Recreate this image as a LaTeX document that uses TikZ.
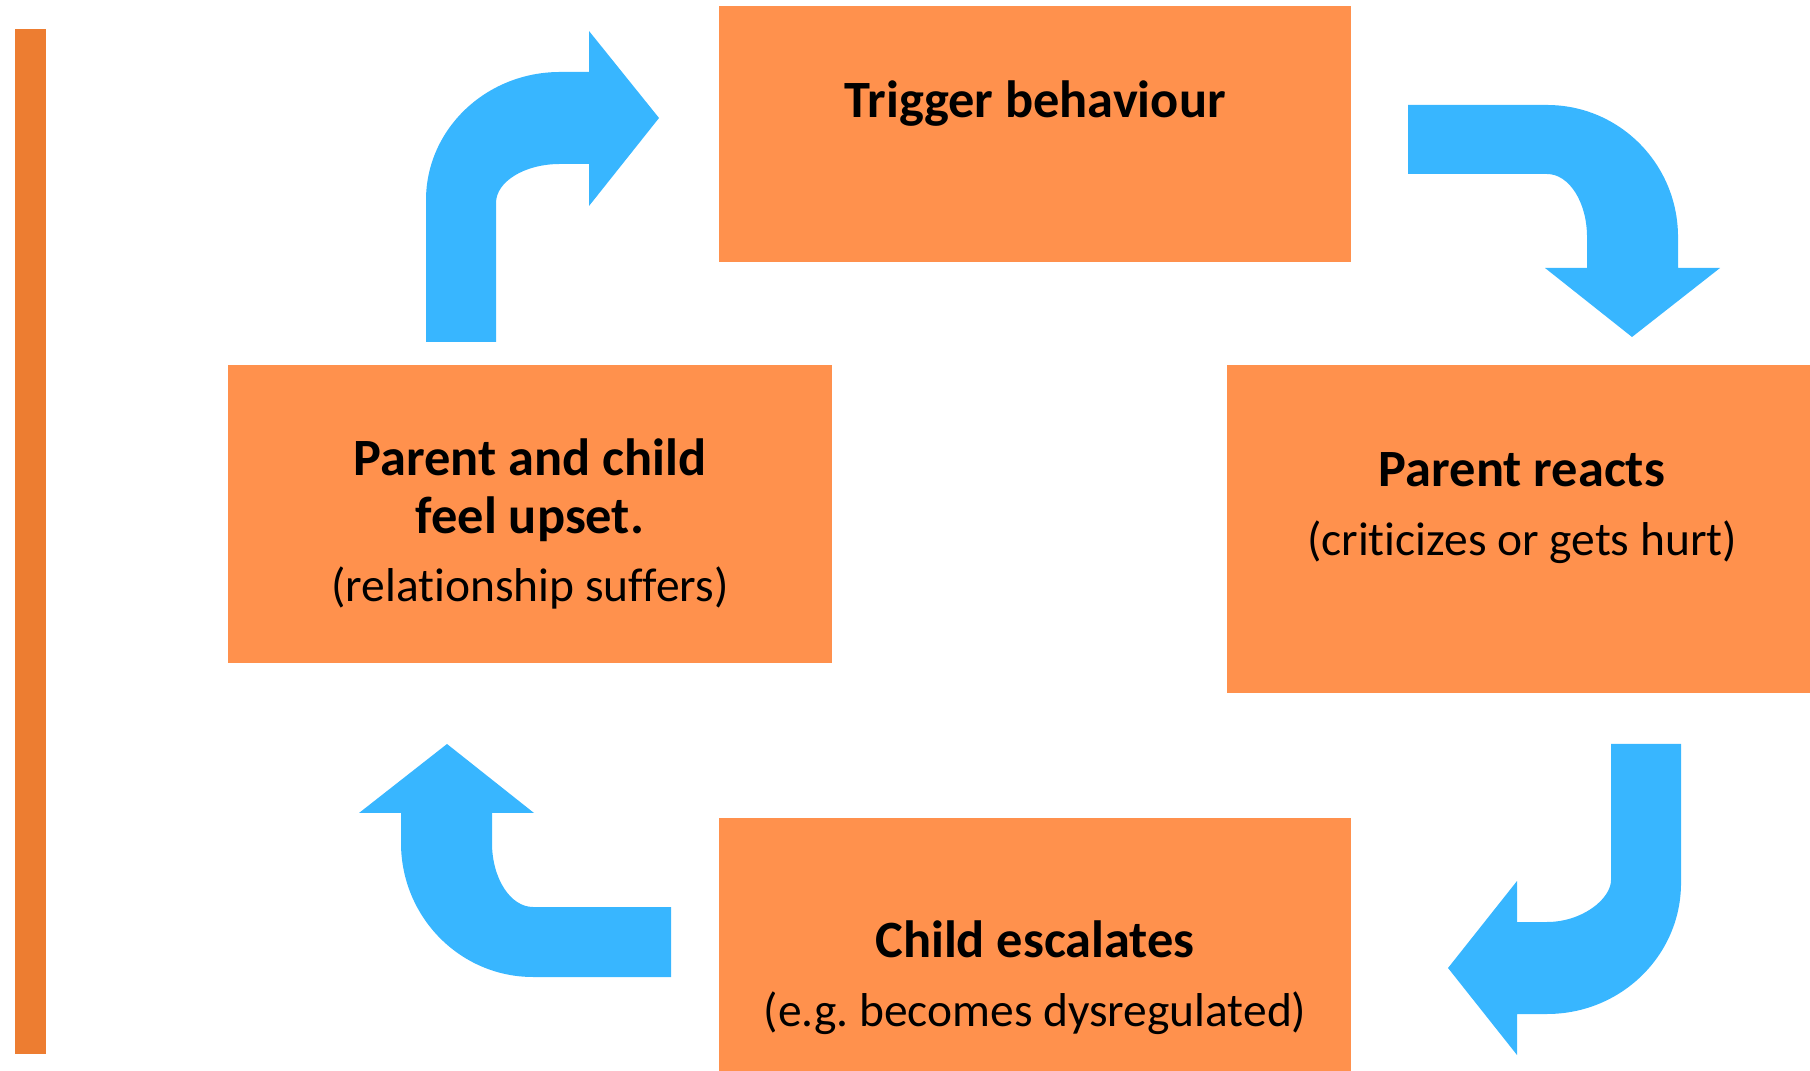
\documentclass[tikz,border=0pt]{standalone}
\usepackage{fontspec}
\setmainfont{Carlito}[Ligatures=NoCommon]
\usepackage{xcolor}
\definecolor{boxorange}{HTML}{FF914D}
\definecolor{barorange}{HTML}{ED7D31}
\definecolor{arrowblue}{HTML}{38B6FF}

\begin{document}
\begin{tikzpicture}[
      x = 0.01cm, y = -0.01cm,
      box/.style = {fill=boxorange, inner sep=0pt, outer sep=0pt},
      ttl/.style = {anchor=base, inner sep=0pt,
                    font=\fontsize{14.9}{17}\selectfont\bfseries},
      sub/.style = {anchor=base, inner sep=0pt,
                    font=\fontsize{13.5}{16}\selectfont},
      bent/.style = {fill=arrowblue}
    ]
    \useasboundingbox (0,0) rectangle (1810,1071);

    \node (bar)   [box, fill=barorange, minimum width=0.31cm, minimum height=10.25cm] at (30.5,541.5) {};
    \node (trig)  [box, minimum width=6.32cm, minimum height=2.56cm] at (1035,134)    {};
    \node (upset) [box, minimum width=6.04cm, minimum height=2.98cm] at (530,514)     {};
    \node (react) [box, minimum width=5.83cm, minimum height=3.28cm] at (1518.5,529)  {};
    \node (escal) [box, minimum width=6.32cm, minimum height=2.53cm] at (1035,944.5)  {};

    \node (trigt)   [ttl] at (1035,118)  {Trigger behaviour};
    \node (upsett)  [ttl] at (530,476)   {Parent and child};
    \node (upsett2) [ttl] at (530,534)   {feel upset.};
    \node (upsets)  [sub] at (530,602)   {(relationship suffers)};
    \node (reactt)  [ttl] at (1522,487)  {Parent reacts};
    \node (reacts)  [sub] at (1522,556)  {(criticizes or gets hurt)};
    \node (escalt)  [ttl] at (1035,957)  {Child escalates};
    \node (escals)  [sub] at (1035,1026) {(e.g.\ becomes dysregulated)};

    \fill[bent] (426,342) -- (426,200)
      .. controls (426,129.3) and (486,72) .. (560,72)
      -- (589,72) -- (589,31) -- (659,118) -- (589,206) -- (589,164) -- (560,164)
      .. controls (524.7,164) and (496,181.5) .. (496,203)
      -- (496,342) -- cycle;

    \fill[bent] (1408,105) -- (1547,105)
      .. controls (1619.4,105) and (1678,164.1) .. (1678,237)
      -- (1678,268) -- (1720,268) -- (1632,337) -- (1545,268) -- (1587,268) -- (1587,237)
      .. controls (1587,202.2) and (1569.1,174) .. (1547,174)
      -- (1408,174) -- cycle;

    \fill[bent] (1611,744) -- (1681,744) -- (1681,883)
      .. controls (1681,955.4) and (1621,1014) .. (1547,1014)
      -- (1517,1014) -- (1517,1055) -- (1448,968) -- (1517,881) -- (1517,922) -- (1547,922)
      .. controls (1582.3,922) and (1611,898.8) .. (1611,880)
      -- cycle;

    \fill[bent] (671,907) -- (533,907)
      .. controls (510.4,907) and (492,878.3) .. (492,843)
      -- (492,813) -- (534,813) -- (447,744) -- (359,813) -- (401,813) -- (401,843)
      .. controls (401,917) and (460.1,977) .. (533,977)
      -- (671,977) -- cycle;
  \end{tikzpicture}
\end{document}
